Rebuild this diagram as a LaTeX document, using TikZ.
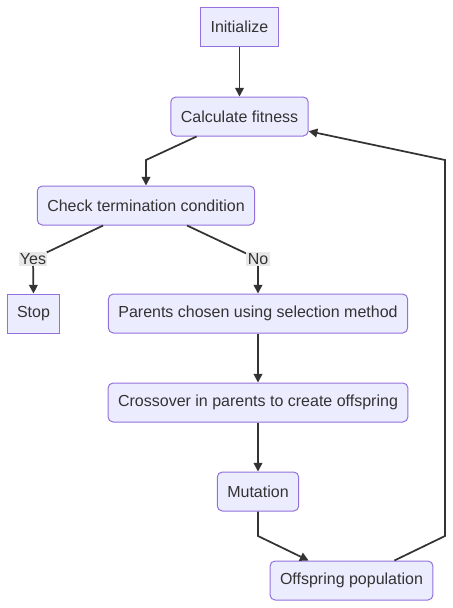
\documentclass[tikz,border=0pt]{standalone}
\usepackage{fontspec}
\setmainfont{Liberation Sans}
\usetikzlibrary{arrows.meta}
\definecolor{boxfill}{HTML}{ECECFF}
\definecolor{boxline}{HTML}{9370DB}
\definecolor{ink}{HTML}{333333}
\definecolor{tagfill}{HTML}{E8E8E8}
\begin{document}
\begin{tikzpicture}[x=0.75pt, y=-0.75pt,
    stepbox/.style={draw=boxline, fill=boxfill, line width=0.75pt, text=ink,
        inner xsep=7.5pt, minimum height=29.25pt, font=\fontsize{12}{14}\selectfont},
    roundbox/.style={stepbox, rounded corners=3.75pt},
    flow/.style={draw=ink, line width=1.3pt, -{Triangle[length=6.5pt, width=6.5pt]}},
    tag/.style={fill=tagfill, text=ink, inner sep=1pt, font=\fontsize{12}{14}\selectfont}]
\useasboundingbox (0,0) rectangle (453,608);
% Nodes
\node[stepbox] (init) at (239.5,27) {Initialize};
\node[roundbox] (calc) at (239.5,116.5) {Calculate fitness};
\node[roundbox] (check) at (146,205.5) {Check termination condition};
\node[stepbox] (stop) at (33.5,313.5) {Stop};
\node[roundbox] (select) at (258,313.5) {Parents chosen using selection method};
\node[roundbox] (cross) at (258,402.5) {Crossover in parents to create offspring};
\node[roundbox] (mutate) at (258,491.5) {Mutation};
\node[roundbox] (offspring) at (351.5,580.5) {Offspring population};
% Bend points
\coordinate (c1) at (146,160);
\coordinate (yes) at (33,259);
\coordinate (no) at (258,259);
\coordinate (m1) at (258,536);
\coordinate (o1) at (445,536);
\coordinate (o2) at (445,160);
% Connectors
\draw[flow] (init) -- (calc);
\draw[flow] (calc.205) -- (c1) -- (check.north);
\draw[flow] (check.205) -- (yes) -- (stop.north);
\draw[flow] (check.334) -- (no) -- (select.north);
\draw[flow] (select) -- (cross);
\draw[flow] (cross) -- (mutate);
\draw[flow] (mutate.south) -- (m1) -- (offspring.155);
\draw[flow] (offspring.25) -- (o1) -- (o2) -- (calc.348);
% Edge labels
\node[tag] (yestag) at (yes) {Yes};
\node[tag] (notag) at (no) {No};
\end{tikzpicture}
\end{document}
